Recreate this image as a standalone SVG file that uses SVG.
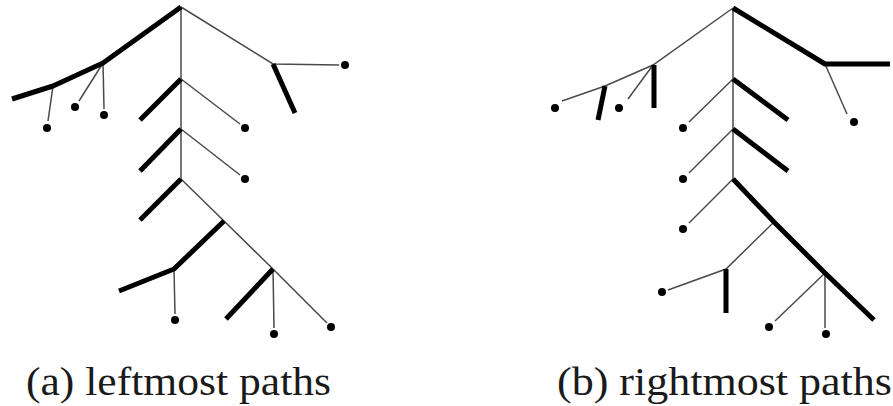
<svg xmlns="http://www.w3.org/2000/svg" width="893" height="406" viewBox="0 0 893 406">
<style>
.thin{stroke:#4a4a4a;stroke-width:1.5;fill:none}
.thick{stroke:#000;stroke-width:5;fill:none;stroke-linejoin:round;stroke-linecap:butt}
.dot{fill:#000}
.cap{font-family:"Liberation Serif","Times New Roman",serif;font-size:39px;fill:#1a1a1a}
</style>
<rect width="893" height="406" fill="#fff"/>
<g id="connectors">
  <g id="tree-a">
    <line class="thin" x1="181" y1="7" x2="181" y2="179"/>
    <polyline class="thin" points="181,7 273,64 339,65"/>
    <line class="thin" x1="53" y1="86" x2="48" y2="121"/>
    <line class="thin" x1="103" y1="63" x2="79" y2="101"/>
    <line class="thin" x1="103" y1="63" x2="104" y2="109"/>
    <line class="thin" x1="181" y1="79" x2="240" y2="124"/>
    <line class="thin" x1="181" y1="129" x2="240" y2="175"/>
    <polyline class="thin" points="181,179 224,221 273,269 327,323"/>
    <line class="thin" x1="174" y1="269" x2="175" y2="314"/>
    <line class="thin" x1="273" y1="269" x2="274" y2="328"/>
    <polyline class="thick" points="181,7 103,63 53,86 12,99"/>
    <line class="thick" x1="273" y1="64" x2="295" y2="113"/>
    <line class="thick" x1="181" y1="79" x2="140" y2="120"/>
    <line class="thick" x1="181" y1="129" x2="140" y2="171"/>
    <line class="thick" x1="181" y1="179" x2="140" y2="220"/>
    <polyline class="thick" points="224,221 174,269 119,291"/>
    <line class="thick" x1="273" y1="269" x2="226" y2="319"/>
  </g>
  <g id="tree-b">
    <line class="thin" x1="733" y1="8" x2="733" y2="179"/>
    <polyline class="thin" points="733,8 653,65 605,86 562,101"/>
    <line class="thin" x1="653" y1="65" x2="628" y2="99"/>
    <line class="thin" x1="825" y1="64" x2="847" y2="114"/>
    <line class="thin" x1="733" y1="79" x2="689" y2="122"/>
    <line class="thin" x1="733" y1="129" x2="689" y2="173"/>
    <line class="thin" x1="733" y1="179" x2="689" y2="223"/>
    <polyline class="thin" points="774,222 726,269 668,290"/>
    <line class="thin" x1="825" y1="273" x2="775" y2="321"/>
    <line class="thin" x1="825" y1="273" x2="825" y2="328"/>
    <line class="thick" x1="605" y1="86" x2="598" y2="120"/>
    <line class="thick" x1="654" y1="65" x2="654" y2="108"/>
    <polyline class="thick" points="733,8 825,64 890,64"/>
    <line class="thick" x1="733" y1="79" x2="788" y2="120"/>
    <line class="thick" x1="733" y1="129" x2="788" y2="171"/>
    <polyline class="thick" points="733,179 774,222 825,273 874,320"/>
    <line class="thick" x1="726" y1="269" x2="726" y2="313"/>
  </g>
</g>
<g id="a-leaf1"><circle class="dot" cx="345" cy="65" r="4"/></g>
<g id="a-leaf2"><circle class="dot" cx="47" cy="128" r="4"/></g>
<g id="a-leaf3"><circle class="dot" cx="75" cy="107" r="4"/></g>
<g id="a-leaf4"><circle class="dot" cx="104" cy="115" r="4"/></g>
<g id="a-leaf5"><circle class="dot" cx="245" cy="128" r="4"/></g>
<g id="a-leaf6"><circle class="dot" cx="245" cy="179" r="4"/></g>
<g id="a-leaf7"><circle class="dot" cx="175" cy="320" r="4"/></g>
<g id="a-leaf8"><circle class="dot" cx="274" cy="334" r="4"/></g>
<g id="a-leaf9"><circle class="dot" cx="331" cy="327" r="4"/></g>
<g id="b-leaf1"><circle class="dot" cx="555" cy="108" r="4"/></g>
<g id="b-leaf2"><circle class="dot" cx="619" cy="108" r="4"/></g>
<g id="b-leaf3"><circle class="dot" cx="854" cy="122" r="4"/></g>
<g id="b-leaf4"><circle class="dot" cx="683" cy="128" r="4"/></g>
<g id="b-leaf5"><circle class="dot" cx="683" cy="179" r="4"/></g>
<g id="b-leaf6"><circle class="dot" cx="683" cy="229" r="4"/></g>
<g id="b-leaf7"><circle class="dot" cx="662" cy="292" r="4"/></g>
<g id="b-leaf8"><circle class="dot" cx="769" cy="327" r="4"/></g>
<g id="b-leaf9"><circle class="dot" cx="826" cy="334" r="4"/></g>
<g id="caption-a"><text class="cap" x="26" y="395" textLength="305" lengthAdjust="spacingAndGlyphs">(a) leftmost paths</text></g>
<g id="caption-b"><text class="cap" x="557" y="395" textLength="335" lengthAdjust="spacingAndGlyphs">(b) rightmost paths</text></g>
</svg>
